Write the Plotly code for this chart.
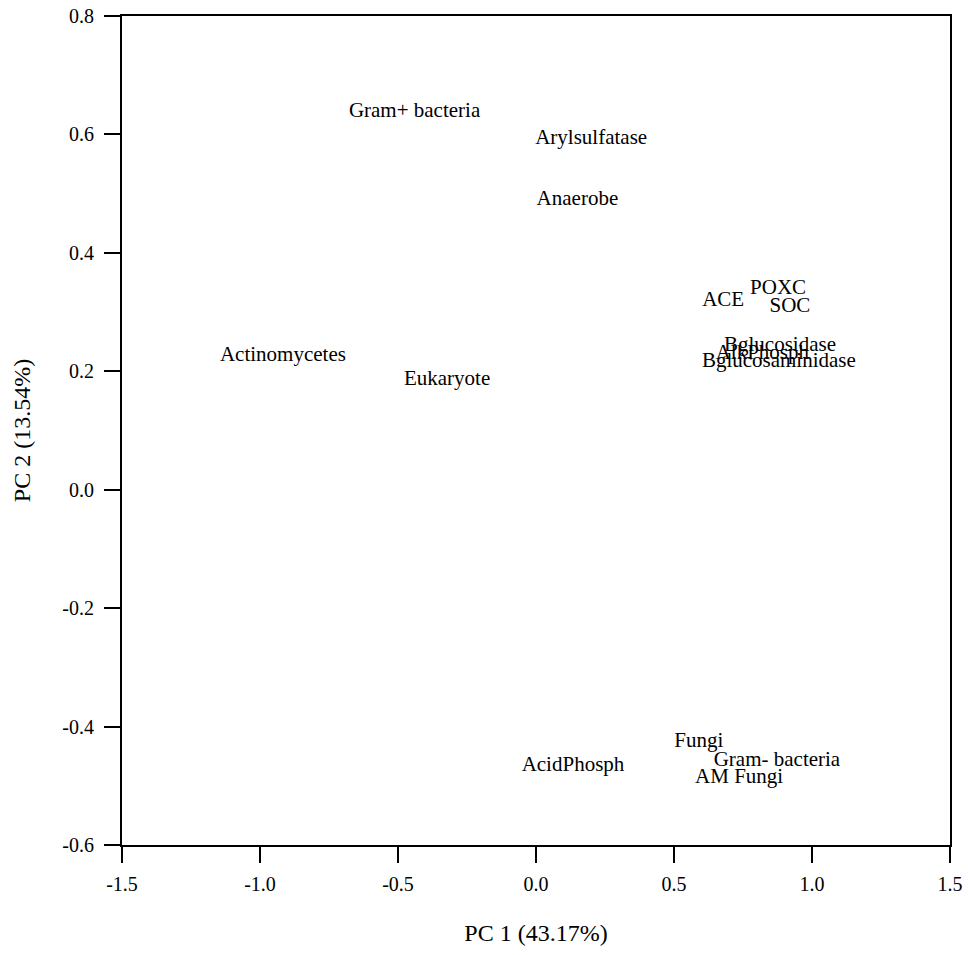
import plotly.graph_objects as go

# PCA loadings: variable names and their PC1 / PC2 coordinates
variables = [
    "Gram+ bacteria", "Arylsulfatase", "Anaerobe", "ACE", "POXC", "SOC",
    "Bglucosidase", "AlkPhosph", "Bglucosaminidase", "Actinomycetes",
    "Eukaryote", "Fungi", "Gram- bacteria", "AcidPhosph", "AM Fungi",
]
pc1 = [-0.44, 0.20, 0.15, 0.678, 0.877, 0.92,
       0.884, 0.82, 0.88, -0.917,
       -0.322, 0.59, 0.873, 0.134, 0.736]
pc2 = [0.638, 0.593, 0.49, 0.319, 0.339, 0.309,
       0.243, 0.23, 0.216, 0.226,
       0.186, -0.426, -0.458, -0.466, -0.487]

x_ticks = [-1.5, -1.0, -0.5, 0.0, 0.5, 1.0, 1.5]
y_ticks = [-0.6, -0.4, -0.2, 0.0, 0.2, 0.4, 0.6, 0.8]

serif = "Liberation Serif, Times New Roman, serif"

fig = go.Figure(
    go.Scatter(
        x=pc1, y=pc2, text=variables, mode="text",
        textposition="middle center",
        textfont=dict(family=serif, size=21, color="black"),
        hoverinfo="text",
    )
)

axis_common = dict(
    showgrid=False, zeroline=False, automargin=False,
    showline=True, linecolor="black", linewidth=2, mirror=True,
    ticks="outside", ticklen=16, tickwidth=2, tickcolor="black",
    tickfont=dict(family=serif, size=20, color="black"),
)

fig.update_layout(
    template="none",
    width=968, height=955,
    margin=dict(l=122, r=18, t=16, b=110),
    paper_bgcolor="white", plot_bgcolor="white",
    showlegend=False,
    xaxis=dict(
        range=[-1.5, 1.5], tickvals=x_ticks,
        ticktext=[f"{v:.1f}" for v in x_ticks],
        title=dict(text="PC 1 (43.17%)", font=dict(family=serif, size=24, color="black"), standoff=30),
        ticklabelstandoff=4,
        **axis_common,
    ),
    yaxis=dict(
        range=[-0.6, 0.8], tickvals=y_ticks,
        ticktext=[f"{v:.1f}" for v in y_ticks],
        title=dict(text="PC 2 (13.54%)", font=dict(family=serif, size=24, color="black"), standoff=25),
        ticklabelstandoff=6,
        **axis_common,
    ),
)

fig.write_html("out.html")
